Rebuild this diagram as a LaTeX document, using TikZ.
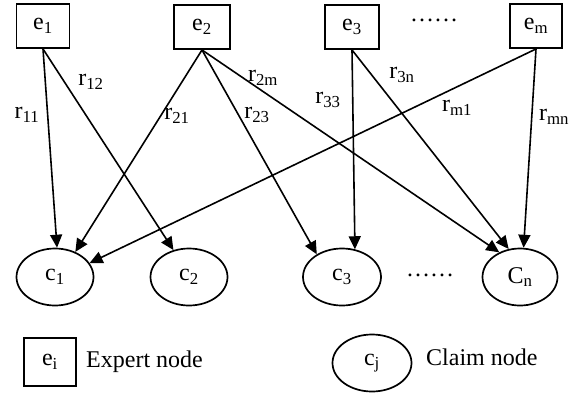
\documentclass[tikz,border=0pt]{standalone}
\usepackage{fontspec}
\setmainfont{Liberation Serif}
\usetikzlibrary{shapes.geometric,arrows.meta}
\begin{document}
\begin{tikzpicture}[x=1pt,y=-1pt,
  txt/.style={font=\fontsize{24}{28}\selectfont, inner sep=0pt},
  expert/.style={txt, draw, line width=1.9pt, minimum width=53pt, minimum height=44pt},
  claim/.style={txt, draw, ellipse, line width=1.7pt, minimum width=77pt, minimum height=57pt},
  rel/.style={draw, line width=1.6pt, -{Triangle[length=13pt,width=12pt]}},
  lbl/.style={txt}]
\useasboundingbox (0,0) rectangle (576,392);
% expert nodes
\node[expert] (e1) at (43,26) {e\textsubscript{1}};
\node[expert, minimum width=56pt] (e2) at (202,27) {e\textsubscript{2}};
\node[expert, minimum width=54pt] (e3) at (352,27) {e\textsubscript{3}};
\node[expert, minimum width=52pt] (em) at (536,26) {e\textsubscript{m}};
\node[txt] (dots1) at (434,20) {……};
% claim nodes
\node[claim] (c1) at (55,277) {c\textsubscript{1}};
\node[claim] (c2) at (189,277) {c\textsubscript{2}};
\node[claim, minimum width=78pt] (c3) at (342,277) {c\textsubscript{3}};
\node[claim, minimum width=75pt] (cn) at (520,277) {C\textsubscript{n}};
\node[txt] (dots2) at (430,275) {……};
% relations
\draw[rel] (e1.south) -- (c1.86);
\draw[rel] (e1.south) -- (c2.120);
\draw[rel] (e2.south) -- (c1.51);
\draw[rel] (e2.south) -- (c3.138);
\draw[rel] (e2.south) -- (cn.130);
\draw[rel] (e3.south) -- (c3.65);
\draw[rel] (e3.south) -- (cn.112);
\draw[rel] (em.south) -- (c1.22);
\draw[rel] (em.south) -- (cn.83);
% labels
\node[lbl] (l11) at (27,115) {r\textsubscript{11}};
\node[lbl] (l12) at (91,82) {r\textsubscript{12}};
\node[lbl] (l21) at (177,116) {r\textsubscript{21}};
\node[lbl] (l23) at (257,115) {r\textsubscript{23}};
\node[lbl] (l2m) at (263,78) {r\textsubscript{2m}};
\node[lbl] (l33) at (328,100) {r\textsubscript{33}};
\node[lbl] (l3n) at (402,75) {r\textsubscript{3n}};
\node[lbl] (lm1) at (457,108) {r\textsubscript{m1}};
\node[lbl] (lmn) at (554,117) {r\textsubscript{mn}};
% legend
\node[expert, minimum width=52pt, minimum height=48pt] (le) at (50,362) {e\textsubscript{i}};
\node[txt, anchor=west] (lt1) at (86,362) {Expert node};
\node[claim, minimum width=79pt] (lc) at (372,363) {c\textsubscript{j}};
\node[txt, anchor=west] (lt2) at (426,357) {Claim node};
\end{tikzpicture}
\end{document}
